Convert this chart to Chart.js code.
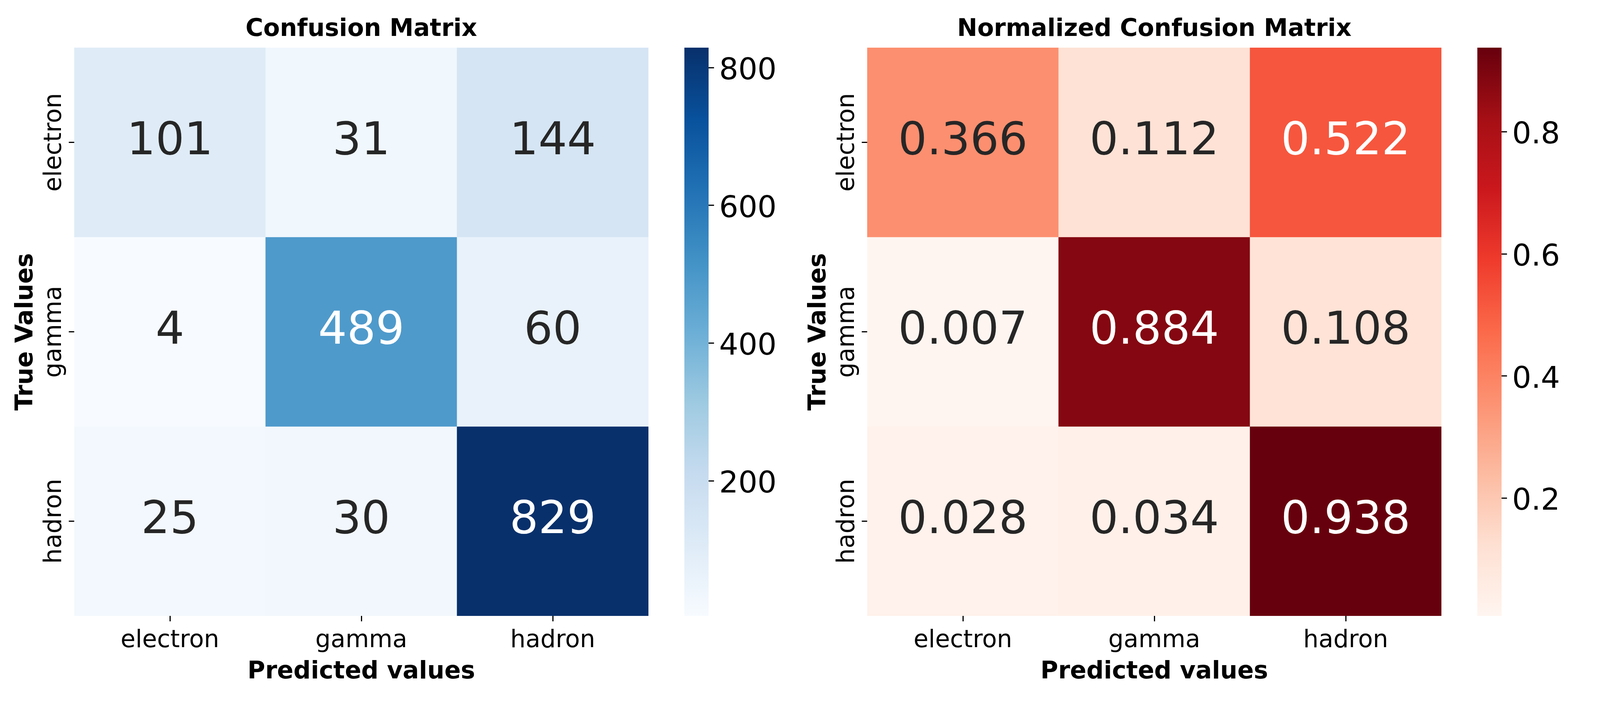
<!DOCTYPE html>
<html>
<head>
<meta charset="utf-8">
<title>Confusion Matrix</title>
<script src="https://cdn.jsdelivr.net/npm/chart.js@4"></script>
<style>
  html, body { margin: 0; padding: 0; background: #fff; overflow: hidden; }
  canvas { position: absolute; top: 0; }
</style>
</head>
<body>
<canvas id="countMatrix"></canvas>
<canvas id="countBar"></canvas>
<canvas id="rateMatrix"></canvas>
<canvas id="rateBar"></canvas>
<script>
const classes = ['electron', 'gamma', 'hadron'];

const electronCounts = [101, 31, 144];
const gammaCounts = [4, 489, 60];
const hadronCounts = [25, 30, 829];

const electronRates = [0.366, 0.112, 0.522];
const gammaRates = [0.007, 0.884, 0.108];
const hadronRates = [0.028, 0.034, 0.938];

const countBarTicks = [200, 400, 600, 800];
const rateBarTicks = [0.2, 0.4, 0.6, 0.8];

const blues = ['#f7fbff', '#deebf7', '#c6dbef', '#9ecae1', '#6baed6', '#4292c6', '#2171b5', '#08519c', '#08306b'];
const reds = ['#fff5f0', '#fee0d2', '#fcbba1', '#fc9272', '#fb6a4a', '#ef3b2c', '#cb181d', '#a50f15', '#67000d'];

Chart.defaults.font.family = '"DejaVu Sans"';
Chart.defaults.color = '#000';
Chart.defaults.animation = false;
Chart.defaults.devicePixelRatio = 1;

// the browser window can come out narrower than 4800 (4096 here), so x positions follow its width
const sx = Math.min(window.innerWidth, 4800) / 4800;
const fontScale = (1 + sx) / 2;

const TICK_FONT = 66.7 * fontScale;
const BAR_FONT = 83.3 * fontScale;
const CELL_FONT = 125 * fontScale;
const PLOT_TOP = 122;
const AXIS_ROOM = 223;
const TICK_LEN = 15 * fontScale;
const PLOT_W = Math.round(574 * sx) * 3;
const BAR_W = Math.round(73 * sx);
const Y_ROOM = Math.round(223 * sx);

// colour of a 0..1 position on a list of evenly spaced stops
function pickColor(stops, t) {
  const p = Math.min(Math.max(t, 0), 1) * (stops.length - 1);
  const i = Math.min(Math.floor(p), stops.length - 2);
  const f = p - i;
  const rgb = [1, 3, 5].map(k => {
    const a = parseInt(stops[i].substr(k, 2), 16);
    const b = parseInt(stops[i + 1].substr(k, 2), 16);
    return Math.round(a + (b - a) * f);
  });
  return `rgb(${rgb.join(',')})`;
}

function placeCanvas(id, left, width) {
  const el = document.getElementById(id);
  el.width = width;
  el.height = 1800;
  el.style.left = left + 'px';
  return el;
}

// writes the number in the middle of each cell
const cellLabels = {
  id: 'cellLabels',
  afterDatasetsDraw(chart, args, opts) {
    const c = chart.ctx;
    c.save();
    c.font = `${CELL_FONT}px "DejaVu Sans"`;
    c.textAlign = 'center';
    c.textBaseline = 'middle';
    chart.data.datasets.forEach((ds, row) => {
      chart.getDatasetMeta(row).data.forEach((bar, col) => {
        const value = opts.rows[row][col];
        const t = (value - opts.min) / (opts.max - opts.min);
        c.fillStyle = t > 0.5 ? '#fff' : '#262626';
        c.fillText(opts.format(value), bar.x, (bar.y + bar.base) / 2);
      });
    });
    c.restore();
  }
};

function drawMatrix(id, plotLeft, rows, stops, title, format) {
  const flat = rows.flat();
  const min = Math.min(...flat);
  const max = Math.max(...flat);
  const left = plotLeft - Y_ROOM;
  new Chart(placeCanvas(id, left, Y_ROOM + PLOT_W + 5), {
    type: 'bar',
    plugins: [cellLabels],
    data: {
      labels: classes,
      datasets: rows.map((row, r) => ({
        data: row.map(() => [r, r + 1]),
        backgroundColor: row.map(v => pickColor(stops, (v - min) / (max - min))),
        borderWidth: 0,
        barPercentage: 1,
        categoryPercentage: 1,
        grouped: false
      }))
    },
    options: {
      responsive: false,
      layout: { padding: { right: 5 } },
      plugins: {
        legend: { display: false },
        tooltip: { enabled: false },
        title: {
          display: true,
          text: title,
          fullSize: false,
          color: '#000',
          font: { size: TICK_FONT, weight: 'bold', lineHeight: 1 },
          padding: { top: 45, bottom: PLOT_TOP - 45 - TICK_FONT }
        },
        cellLabels: { rows, min, max, format }
      },
      scales: {
        x: {
          afterFit: s => { s.height = AXIS_ROOM; },
          border: { display: false },
          grid: { offset: false, drawOnChartArea: false, tickLength: TICK_LEN, tickWidth: 3, tickColor: '#000' },
          ticks: { font: { size: TICK_FONT, lineHeight: 1 }, padding: 19, maxRotation: 0, autoSkip: false },
          title: {
            display: true,
            text: 'Predicted values',
            color: '#000',
            font: { size: TICK_FONT, weight: 'bold', lineHeight: 1 },
            padding: { top: 0, bottom: 48 }
          }
        },
        y: {
          min: 0,
          max: 3,
          reverse: true,
          afterFit: s => { s.width = Y_ROOM; },
          afterBuildTicks: s => { s.ticks = classes.map((c, i) => ({ value: i + 0.5 })); },
          border: { display: false },
          grid: { drawOnChartArea: false, tickLength: TICK_LEN, tickWidth: 3, tickColor: '#000' },
          ticks: {
            font: { size: TICK_FONT, lineHeight: 1 },
            autoSkip: false,
            minRotation: 90,
            maxRotation: 90,
            crossAlign: 'center',
            padding: Y_ROOM - TICK_LEN - TICK_FONT * 2.05 - 164 * sx,
            callback: v => classes[v - 0.5]
          },
          title: {
            display: true,
            text: 'True Values',
            color: '#000',
            font: { size: TICK_FONT, weight: 'bold', lineHeight: 1 },
            padding: { top: 78 * sx - TICK_FONT / 2, bottom: 0 }
          }
        }
      }
    }
  });
}

function drawColorBar(id, barLeft, rows, stops, ticks, format) {
  const flat = rows.flat();
  const min = Math.min(...flat);
  const max = Math.max(...flat);
  const room = 260;
  new Chart(placeCanvas(id, barLeft, BAR_W + room), {
    type: 'bar',
    data: {
      labels: [''],
      datasets: [{
        data: [[min, max]],
        borderWidth: 0,
        barPercentage: 1,
        categoryPercentage: 1,
        backgroundColor: ctx => {
          const y = ctx.chart.scales.y;
          if (!y || !ctx.chart.chartArea) return stops[0];
          const g = ctx.chart.ctx.createLinearGradient(0, y.getPixelForValue(min), 0, y.getPixelForValue(max));
          stops.forEach((s, i) => g.addColorStop(i / (stops.length - 1), s));
          return g;
        }
      }]
    },
    options: {
      responsive: false,
      layout: { padding: { top: PLOT_TOP, bottom: AXIS_ROOM } },
      plugins: { legend: { display: false }, tooltip: { enabled: false } },
      scales: {
        x: { display: false },
        y: {
          position: 'right',
          min,
          max,
          afterFit: s => { s.width = room; },
          afterBuildTicks: s => { s.ticks = ticks.map(value => ({ value })); },
          border: { display: false },
          grid: { drawOnChartArea: false, tickLength: TICK_LEN, tickWidth: 3, tickColor: '#000' },
          // empty first line with a small line height nudges the digits down onto the tick
          ticks: { font: { size: BAR_FONT, lineHeight: 0.25 }, padding: 13, autoSkip: false, callback: v => ['', format(v)] }
        }
      }
    }
  });
}

const countRows = [electronCounts, gammaCounts, hadronCounts];
const rateRows = [electronRates, gammaRates, hadronRates];

drawMatrix('countMatrix', Y_ROOM, countRows, blues, 'Confusion Matrix', v => String(v));
drawColorBar('countBar', Math.round(2053 * sx), countRows, blues, countBarTicks, v => String(v));
drawMatrix('rateMatrix', Math.round(2602 * sx), rateRows, reds, 'Normalized Confusion Matrix', v => v.toFixed(3));
drawColorBar('rateBar', Math.round(4432 * sx), rateRows, reds, rateBarTicks, v => v.toFixed(1));
</script>
</body>
</html>
